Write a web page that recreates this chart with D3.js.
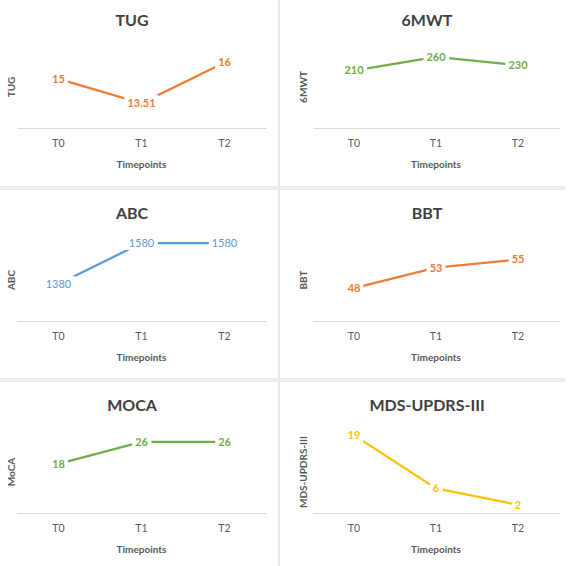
<!DOCTYPE html>
<html>
<head>
<meta charset="utf-8">
<script src="https://cdn.jsdelivr.net/npm/d3@7/dist/d3.min.js"></script>
<style>
  html, body { margin: 0; padding: 0; background: #ffffff; }
  svg { display: block; }
  text { font-family: Lato, "Open Sans", sans-serif; }
</style>
</head>
<body>
<svg id="chart" width="571" height="566"></svg>
<script>
// ---- data ----
const timepoints = ["T0", "T1", "T2"];
const chartTitles = ["TUG", "6MWT", "ABC", "BBT", "MOCA", "MDS-UPDRS-III"];
const yAxisTitles = ["TUG", "6MWT", "ABC", "BBT", "MoCA", "MDS-UPDRS-III"];
const tugValues = [15, 13.51, 16];
const sixMwtValues = [210, 260, 230];
const abcValues = [1380, 1580, 1580];
const bbtValues = [48, 53, 55];
const mocaValues = [18, 26, 26];
const mdsUpdrsValues = [19, 6, 2];
const yAxisMin = [12, 0, 1200, 40, 0, 0];
const yAxisMax = [17, 300, 1600, 60, 30, 20];
const seriesValues = [tugValues, sixMwtValues, abcValues, bbtValues, mocaValues, mdsUpdrsValues];

// ---- styling / layout ----
const seriesColors = ["#ED7D31", "#70AD47", "#5B9BD5", "#ED7D31", "#70AD47", "#FFC000"];
const labelWeights = ["bold", "bold", "normal", "bold", "bold", "bold"];
const rowOffsets = [0, 193, 385];
const cols = [
  { x0: 17, x1: 266, titleX: 132, yLabX: 11 },
  { x0: 313, x1: 559, titleX: 427, yLabX: 303 }
];
const plotTop = 46, plotBottom = 128;

const svg = d3.select("#chart");

// separators
svg.append("rect").attr("x", 0).attr("y", 186).attr("width", 565).attr("height", 4).attr("fill", "#ededed");
svg.append("rect").attr("x", 0).attr("y", 378).attr("width", 565).attr("height", 4).attr("fill", "#ededed");
svg.append("rect").attr("x", 278).attr("y", 0).attr("width", 2).attr("height", 566).attr("fill", "#e8e8e8");

seriesValues.forEach((vals, i) => {
  const col = cols[i % 2];
  const y0 = rowOffsets[Math.floor(i / 2)];
  const g = svg.append("g");

  const x = d3.scaleBand().domain(timepoints).range([col.x0, col.x1]);
  const y = d3.scaleLinear().domain([yAxisMin[i], yAxisMax[i]]).range([y0 + plotBottom, y0 + plotTop]);

  // title
  g.append("text")
    .attr("x", col.titleX).attr("y", y0 + 26)
    .attr("text-anchor", "middle")
    .attr("font-size", 16).attr("font-weight", "bold")
    .attr("fill", "#404040")
    .text(chartTitles[i]);

  // x axis
  const xAxis = g.append("g")
    .attr("transform", `translate(0,${y0 + plotBottom})`)
    .call(d3.axisBottom(x).tickSize(0).tickPadding(12));
  xAxis.select(".domain").attr("stroke", "#d9d9d9").attr("stroke-width", 1);
  xAxis.selectAll("text")
    .attr("font-family", "Lato, sans-serif")
    .attr("font-size", 10.5).attr("fill", "#595959");

  // x axis title
  g.append("text")
    .attr("x", (col.x0 + col.x1) / 2).attr("y", y0 + 168)
    .attr("text-anchor", "middle")
    .attr("font-size", 10).attr("font-weight", "bold")
    .attr("fill", "#595959")
    .text("Timepoints");

  // y axis title
  g.append("text")
    .attr("transform", `translate(${col.yLabX + 3.5},${y0 + (plotTop + plotBottom) / 2}) rotate(-90)`)
    .attr("text-anchor", "middle")
    .attr("font-size", 10).attr("font-weight", "bold")
    .attr("fill", "#595959")
    .text(yAxisTitles[i]);

  // line
  const line = d3.line()
    .x((d, j) => x(timepoints[j]) + x.bandwidth() / 2)
    .y(d => y(d));
  g.append("path")
    .datum(vals)
    .attr("d", line)
    .attr("fill", "none")
    .attr("stroke", seriesColors[i])
    .attr("stroke-width", 2.25);

  // data labels with white background
  const labels = g.selectAll(".lbl").data(vals).enter().append("g")
    .attr("transform", (d, j) => `translate(${x(timepoints[j]) + x.bandwidth() / 2},${y(d)})`);
  const txt = labels.append("text")
    .attr("text-anchor", "middle")
    .attr("dy", "0.35em")
    .attr("font-size", 11).attr("font-weight", labelWeights[i])
    .attr("fill", seriesColors[i])
    .text(d => d);
  txt.each(function() {
    const bb = this.getBBox();
    d3.select(this.parentNode).insert("rect", "text")
      .attr("x", bb.x - 3).attr("y", bb.y - 1)
      .attr("width", bb.width + 6).attr("height", bb.height + 2)
      .attr("fill", "#ffffff");
  });
});
</script>
</body>
</html>
